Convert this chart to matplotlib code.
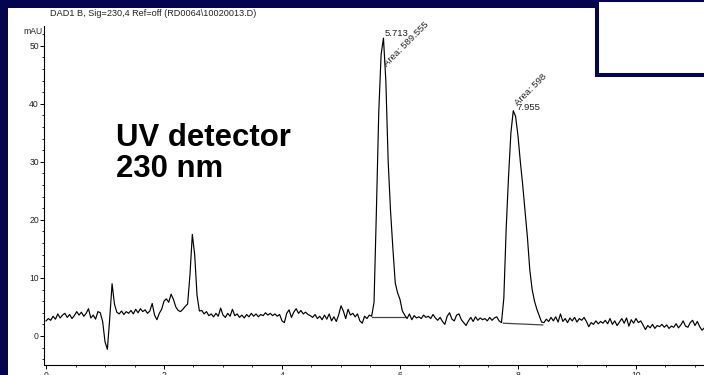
import numpy as np
import matplotlib
matplotlib.use("Agg")
import matplotlib.pyplot as plt
from matplotlib.patches import Rectangle
from matplotlib.ticker import MultipleLocator

plt.rcParams['font.family'] = ['Liberation Sans', 'DejaVu Sans']

# ---- data ----
t_start = 0.0      # min
t_step = 0.04      # min, sampling interval
signal = [
    # 0.00 - 0.96
    2.6, 3.0, 2.7, 3.4, 2.9, 3.8, 3.1, 3.6, 3.9, 3.2, 3.7, 3.0, 3.5, 4.2, 3.6, 4.1, 3.4, 3.9, 4.7, 3.1, 3.6, 2.9, 4.2, 4.0, 2.5,
    # 1.00 - 1.96
    -1.0, -2.3, 3.0, 9.0, 5.5, 4.1, 3.8, 4.3, 3.7, 4.2, 3.9, 4.4, 3.8, 4.6, 4.0, 4.7, 4.2, 4.5, 3.9, 4.3, 5.6, 3.6, 2.8, 3.9, 4.6,
    # 2.00 - 2.96
    6.0, 6.4, 5.8, 7.2, 6.3, 5.0, 4.4, 4.2, 4.6, 5.1, 5.5, 10.5, 17.5, 14.0, 7.0, 4.3, 4.4, 3.8, 4.2, 3.5, 3.8, 3.3, 3.9, 3.4, 4.8,
    # 3.00 - 3.96
    3.6, 3.2, 3.9, 3.4, 4.6, 3.5, 3.8, 3.2, 3.6, 3.1, 3.7, 3.3, 3.9, 3.4, 3.8, 3.3, 3.7, 3.5, 4.0, 3.6, 3.9, 3.5, 3.8, 3.4, 3.7,
    # 4.00 - 4.96
    2.6, 2.3, 3.9, 4.5, 3.2, 4.1, 4.7, 3.9, 4.4, 3.8, 4.1, 3.7, 3.5, 3.2, 3.7, 3.0, 3.4, 2.8, 3.6, 2.9, 3.8, 2.6, 3.3, 2.5, 3.6,
    # 5.00 - 5.96
    5.2, 4.3, 3.0, 4.6, 3.6, 3.9, 3.3, 3.8, 2.6, 2.2, 3.4, 3.0, 3.6, 3.4, 5.8, 21.5, 38.5, 48.5, 51.3, 44.0, 30.0, 21.5, 15.0, 9.1, 7.4,
    # 6.00 - 6.96
    6.3, 4.3, 3.6, 3.0, 3.8, 2.8, 3.5, 3.1, 3.3, 3.0, 3.6, 3.2, 3.4, 3.0, 3.7, 3.1, 2.7, 3.2, 2.5, 2.0, 3.4, 4.0, 2.9, 2.6, 3.6,
    # 7.00 - 7.96
    3.8, 2.8, 2.3, 1.8, 2.6, 3.2, 2.5, 3.3, 2.7, 3.1, 2.8, 3.0, 2.6, 3.2, 2.7, 3.1, 3.3, 2.6, 2.3, 6.5, 18.5, 27.5, 35.0, 38.8, 37.8,
    # 8.00 - 8.96
    34.5, 30.0, 26.0, 21.5, 17.0, 11.4, 8.0, 6.0, 4.6, 3.5, 2.4, 2.3, 2.9, 2.5, 3.2, 2.6, 3.3, 2.4, 3.8, 2.5, 3.0, 2.3, 3.1, 2.6, 3.2,
    # 9.00 - 9.96
    2.4, 3.0, 2.7, 3.2, 2.5, 1.6, 2.3, 2.0, 2.6, 2.1, 2.5, 2.2, 2.7, 2.1, 3.0, 2.0, 2.6, 1.8, 2.4, 3.0, 2.2, 3.1, 1.7, 2.8, 2.2,
    # 10.00 - 10.96
    3.0, 2.3, 2.6, 1.9, 1.1, 1.8, 1.4, 2.0, 1.3, 1.8, 1.6, 2.0, 1.5, 1.9, 1.3, 1.7, 1.5, 2.1, 1.4, 1.9, 2.6, 1.7, 1.5, 2.3, 2.7,
    # 11.00 - 11.16
    1.8, 2.5, 1.6, 1.0, 1.4,
]

# integration baselines: (start time, start value, end time, end value)
peak_baselines = [(5.52, 3.3, 6.08, 3.3), (7.75, 2.2, 8.42, 1.9)]
# peak labels
peak_rt = ["5.713", "7.955"]
peak_rt_pos = [(5.745, 51.6), (7.977, 39.0)]
peak_area = ["Area: 589.555", "Area: 598"]
peak_area_pos = [(5.785, 46.4), (8.0, 39.7)]

x_ticks = [0, 2, 4, 6, 8, 10]
y_ticks = [0, 10, 20, 30, 40, 50]

title = "DAD1 B, Sig=230,4 Ref=off (RD0064\\10020013.D)"
note_lines = ["UV detector", "230 nm"]

navy = "#05054f"
W, H = 704, 375

time = t_start + t_step * np.arange(len(signal))

fig = plt.figure(figsize=(W / 100, H / 100), dpi=100, facecolor=navy)

def fx(px):
    return px / W

def fy(py):
    return 1 - py / H

# white panel
fig.add_artist(Rectangle((fx(8), 0), 1 - fx(8), fy(8), transform=fig.transFigure,
                         facecolor="white", edgecolor="none", zorder=0))

ax = fig.add_axes([fx(44), fy(365), 1 - fx(44), fy(26) - fy(365)])
ax.set_facecolor("none")
ax.plot(time, signal, color="black", lw=0.85, zorder=3)
for (x0, y0, x1, y1) in peak_baselines:
    ax.plot([x0, x1], [y0, y1], color="#454545", lw=0.9, zorder=2)

for lab, (x, y) in zip(peak_rt, peak_rt_pos):
    ax.text(x, y, lab, fontsize=6.8, color="#222222", ha="left", va="baseline")
for lab, (x, y) in zip(peak_area, peak_area_pos):
    ax.text(x, y, lab, fontsize=6.8, color="#222222", ha="left", va="baseline",
            rotation=45, rotation_mode="anchor")

ax.set_xlim(-0.034, 11.153)
ax.set_ylim(-5.0, 53.4)
for s in ["top", "right"]:
    ax.spines[s].set_visible(False)
for s in ["left", "bottom"]:
    ax.spines[s].set_linewidth(0.8)
ax.set_xticks(x_ticks)
ax.set_yticks(y_ticks)
ax.xaxis.set_minor_locator(MultipleLocator(0.5))
ax.yaxis.set_minor_locator(MultipleLocator(2))
ax.tick_params(which="major", direction="out", length=3, width=0.7, labelsize=6.2, pad=0.6,
               labelcolor="#222222")
ax.tick_params(which="minor", direction="out", length=1.6, width=0.6)
ax.tick_params(axis="x", which="major", pad=1.2)

fig.text(fx(50), fy(14), title, fontsize=6.6, ha="left", va="center", color="#222222")
fig.text(fx(43), fy(31), "mAU", fontsize=6.2, ha="right", va="center", color="#222222")
fig.text(fx(116), fy(146), note_lines[0], fontsize=22.4, fontweight="bold", ha="left",
         va="baseline", color="black")
fig.text(fx(116), fy(177), note_lines[1], fontsize=22.4, fontweight="bold", ha="left",
         va="baseline", color="black")

# top-right box
fig.add_artist(Rectangle((fx(597), fy(74.7)), 1.05 - fx(597), 0.2, transform=fig.transFigure,
                         facecolor="white", edgecolor=navy, lw=2.9, zorder=5, clip_on=False))

fig.savefig("out.png", dpi=100, facecolor=navy)
